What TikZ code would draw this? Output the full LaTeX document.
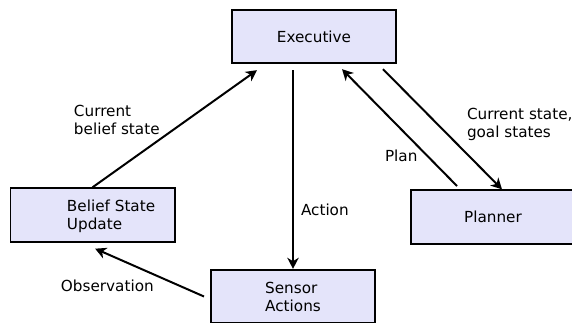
\documentclass[tikz,border=0pt]{standalone}
\usepackage{fontspec}
\setmainfont{DejaVu Sans}
\usetikzlibrary{arrows.meta}
\definecolor{boxfill}{RGB}{228,228,250}

\begin{document}
\begin{tikzpicture}[x=0.03cm,y=-0.03cm,
    font=\fontsize{13pt}{15.4pt}\selectfont,
    line width=1.7pt,
    >={Stealth[length=0.33cm,width=0.34cm,inset=0.1cm]}]

        \useasboundingbox (0,0) rectangle (572,322);

        \begin{scope}[every node/.style={rectangle,draw,fill=boxfill,minimum width=4.92cm,minimum height=1.6cm,align=left}]
          \node (exec)    at (314,36.5)  {Executive};
          \node (belief)  at (92.5,215)  {};
          \node (sensor)  at (293,296.5) {Sensor\\Actions};
          \node (planner) at (493,217)   {Planner};
        \end{scope}

        \begin{scope}[every node/.style={anchor=west,align=left,inner sep=0}]
          \node (beliefname) at (66,216)  {Belief State\\Update};
          \node (curbelief)  at (73,120)  {Current\\belief state};
          \node (action)     at (300,210) {Action};
          \node (plan)       at (384,156) {Plan};
          \node (curgoal)    at (466,124) {Current state,\\goal states};
          \node (obs)        at (60,286)  {Observation};
        \end{scope}

        \begin{scope}[every edge/.style={draw,->}]
          \path (belief.north) edge ([xshift=-1.71cm,yshift=-0.18cm]exec.south);
          \path ([xshift=2.07cm,yshift=-0.15cm]exec.south) edge ([xshift=0.27cm]planner.north);
          \path ([xshift=-1.08cm,yshift=0.1cm]planner.north) edge ([xshift=0.84cm,yshift=-0.15cm]exec.south);
          \path ([xshift=-0.18cm]sensor.west) edge ([xshift=0.08cm,yshift=-0.18cm]belief.south);
        \end{scope}

        \draw[->] (sensor.north |- exec.south) ++(0,6) -- (sensor.north);

      \end{tikzpicture}
\end{document}
